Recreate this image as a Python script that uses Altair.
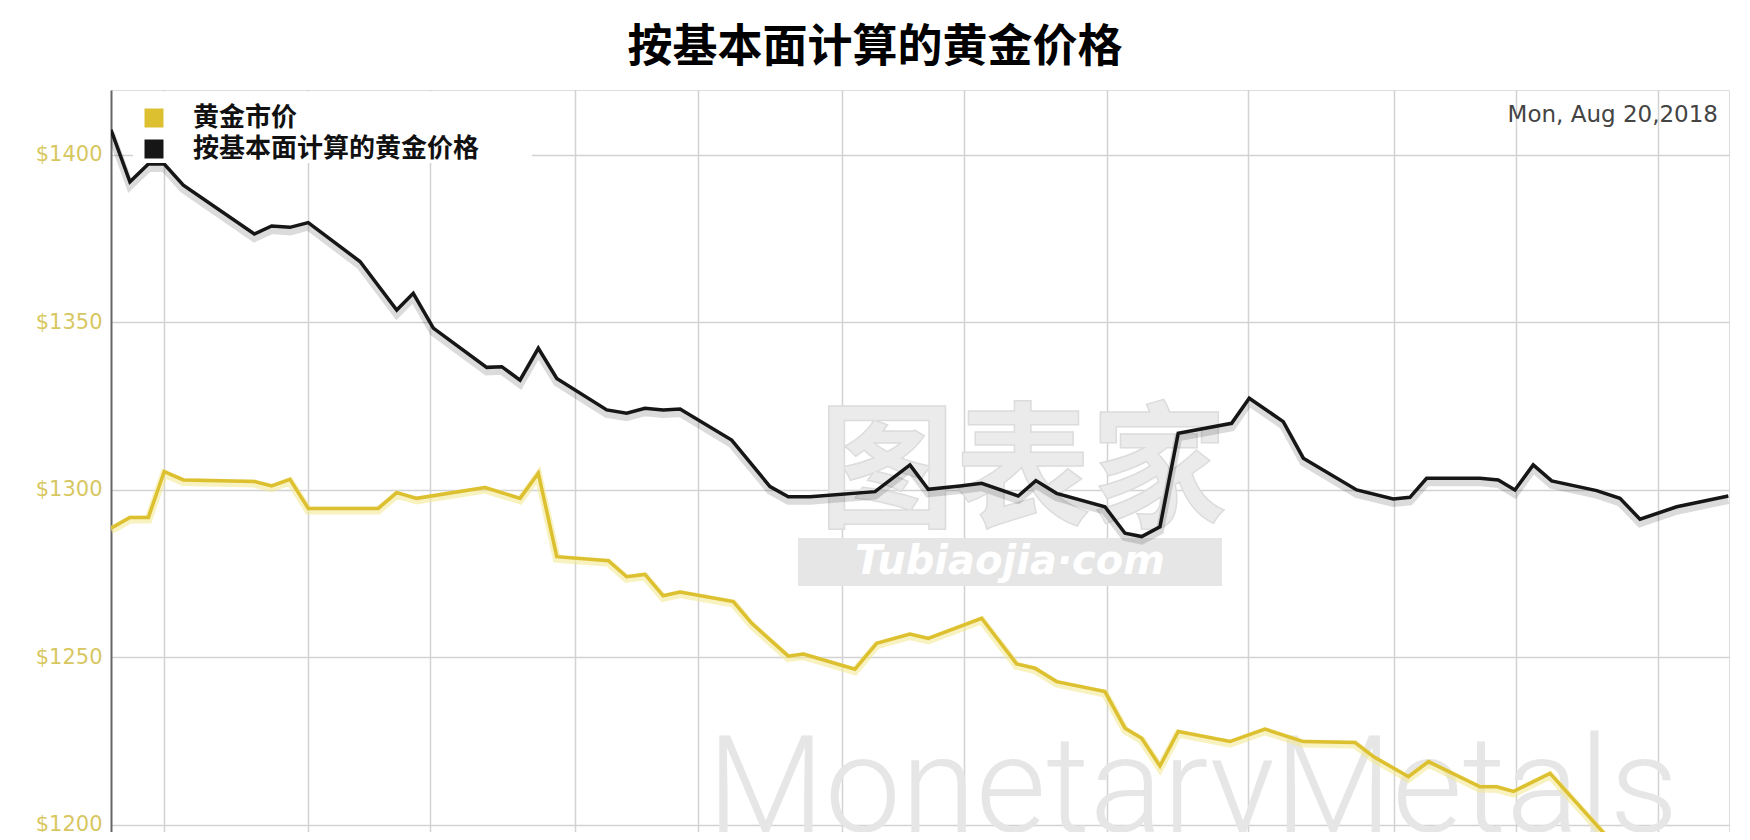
import altair as alt
import pandas as pd

# ---- data (x: time index 0..100 across the plot) ----
series_names = ["黄金市价", "按基本面计算的黄金价格"]

t_fund = [0.0, 1.17, 2.31, 3.29, 4.47, 8.86, 9.93, 11.06, 12.19, 15.39, 17.66, 18.68,
          19.92, 23.22, 24.15, 25.28, 26.41, 27.55, 30.64, 31.87, 33.0, 34.13, 35.17,
          38.36, 40.73, 41.86, 43.2, 47.22, 49.38, 50.51, 52.47, 53.81, 56.07, 57.16,
          58.44, 61.43, 62.67, 63.70, 64.83, 65.96, 69.26, 70.35, 72.45, 73.69, 76.99,
          79.25, 80.28, 81.31, 84.61, 85.74, 86.77, 87.90, 89.04, 91.82, 93.26, 94.5,
          96.77, 99.96]
v_fund = [1407.5, 1392.0, 1397.3, 1397.3, 1391.0, 1376.4, 1378.8, 1378.4, 1379.8,
          1368.2, 1353.7, 1358.7, 1348.3, 1336.6, 1336.8, 1332.8, 1342.3, 1333.3,
          1323.9, 1322.9, 1324.4, 1323.9, 1324.2, 1314.9, 1301.0, 1298.0, 1298.0,
          1299.5, 1307.5, 1300.2, 1301.2, 1302.0, 1298.2, 1302.8, 1299.0, 1295.0,
          1287.1, 1286.1, 1289.0, 1316.9, 1319.9, 1327.4, 1320.4, 1309.5, 1300.0,
          1297.3, 1297.8, 1303.5, 1303.5, 1303.0, 1300.0, 1307.5, 1302.7, 1299.8,
          1297.5, 1291.3, 1295.0, 1298.2]

t_spot = [0.0, 1.17, 2.31, 3.29, 4.47, 8.86, 9.93, 11.06, 12.19, 16.52, 17.66, 18.89,
          23.12, 25.28, 26.41, 27.55, 30.74, 31.87, 33.0, 34.13, 35.17, 38.46, 39.6,
          41.86, 42.79, 45.98, 47.32, 49.38, 50.51, 53.81, 55.97, 57.1, 58.44, 61.43,
          62.67, 63.7, 64.83, 65.96, 69.16, 71.32, 73.69, 76.89, 78.02, 80.19, 81.43,
          84.61, 85.64, 86.67, 88.94, 92.46, 93.26]
v_spot = [1288.6, 1291.8, 1291.8, 1305.5, 1303.0, 1302.5, 1301.2, 1303.2, 1294.5,
          1294.5, 1299.2, 1297.5, 1300.7, 1297.5, 1305.0, 1280.1, 1278.9, 1274.1,
          1274.8, 1268.4, 1269.5, 1266.7, 1260.2, 1250.4, 1251.0, 1246.5, 1254.2,
          1257.0, 1255.7, 1261.7, 1248.1, 1246.8, 1242.8, 1239.8, 1228.9, 1225.9,
          1217.6, 1227.9, 1224.9, 1228.6, 1224.9, 1224.6, 1220.4, 1214.4, 1218.9,
          1211.4, 1211.4, 1210.0, 1215.4, 1196.5, 1197.0]

x_grid = [3.28, 12.18, 19.72, 28.68, 36.28, 45.18, 52.72, 61.56, 70.27, 79.30, 86.84, 95.61]
y_ticks = [1200, 1250, 1300, 1350, 1400]
date_label = "Mon, Aug 20,2018"
title_text = "按基本面计算的黄金价格"

GOLD = "#dcc030"
BLACK = "#161616"
colors = [GOLD, BLACK]

df = pd.concat([
    pd.DataFrame({"t": t_spot, "v": v_spot, "s": series_names[0], "o": 0}),
    pd.DataFrame({"t": t_fund, "v": v_fund, "s": series_names[1], "o": 1}),
])
df_fund = df[df.s == series_names[1]]
df_spot = df[df.s == series_names[0]]

x_enc = alt.X("t:Q", scale=alt.Scale(domain=[0, 100], nice=False, zero=False),
              axis=alt.Axis(values=x_grid, labels=False, ticks=False, domain=False,
                            title=None, grid=True, gridColor="#d2d2d2", gridWidth=1.5))
y_enc = alt.Y("v:Q", scale=alt.Scale(domain=[1197.9, 1419.4], nice=False, zero=False),
              axis=alt.Axis(values=y_ticks, labelExpr="'$' + datum.value",
                            labelColor="#d8c761", labelFont="DejaVu Sans", labelFontSize=21,
                            labelPadding=9, ticks=False, domain=True, domainColor="#666666",
                            domainWidth=2, title=None, grid=True, gridColor="#d2d2d2",
                            gridWidth=1.5))


def one_text(txt, **kw):
    return alt.Chart(pd.DataFrame({"txt": [txt]})).mark_text(**kw).encode(text="txt:N")


wm1 = one_text("图表家", font="Noto Sans CJK SC", fontWeight="bold", fontSize=136,
               color="#ebebeb", stroke="#dcdcdc", strokeWidth=1.5,
               align="center", baseline="middle").encode(x=alt.value(912), y=alt.value(386))
wm_box = alt.Chart(pd.DataFrame({"k": [0]})).mark_rect(color="#e6e6e6").encode(
    x=alt.value(687), x2=alt.value(1111), y=alt.value(448), y2=alt.value(496))
wm2 = one_text("Tubiaojia·com", font="DejaVu Sans", fontWeight="bold", fontStyle="italic",
               fontSize=40, color="#ffffff", align="center", baseline="middle").encode(
    x=alt.value(899), y=alt.value(472))
wm3 = one_text("MonetaryMetals", font="Roboto", fontWeight=300, fontSize=136,
               color="#e6e6e6", align="left", baseline="alphabetic").encode(
    x=alt.value(596), y=alt.value(742))

shadow_fund = alt.Chart(df_fund).mark_line(
    color="#000000", opacity=0.14, strokeWidth=8, yOffset=4, clip=True
).encode(x=x_enc, y=y_enc)
glow_spot = alt.Chart(df_spot).mark_line(
    color="#f3e58c", opacity=0.55, strokeWidth=8, yOffset=2, clip=True
).encode(x=x_enc, y=y_enc)

lines = alt.Chart(df).mark_line(strokeWidth=3.5, clip=True).encode(
    x=x_enc, y=y_enc,
    color=alt.Color("s:N", scale=alt.Scale(domain=series_names, range=colors), legend=None),
    order="o:Q",
)

# ---- legend drawn in the upper-left corner of the plot ----
leg_bg = alt.Chart(pd.DataFrame({"k": [0]})).mark_rect(color="white").encode(
    x=alt.value(22), x2=alt.value(421), y=alt.value(1.5), y2=alt.value(73))
leg_layers = [leg_bg]
for i, (name, col) in enumerate(zip(series_names, colors)):
    yy = 28 + 31 * i
    leg_layers.append(
        alt.Chart(pd.DataFrame({"s": [name]})).mark_square(size=361, color=col, opacity=1)
        .encode(x=alt.value(43), y=alt.value(yy)))
    leg_layers.append(
        one_text(name, font="Noto Sans CJK SC", fontWeight="bold", fontSize=26,
                 color="#111111", align="left", baseline="middle")
        .encode(x=alt.value(82), y=alt.value(yy)))

date_txt = one_text(date_label, font="DejaVu Sans", fontSize=23, color="#444444",
                    align="right", baseline="middle").encode(x=alt.value(1607), y=alt.value(25))

title_mark = one_text(title_text, font="Noto Sans CJK SC", fontSize=45, fontWeight="bold",
                      color="#000000", align="center", baseline="alphabetic").encode(
    x=alt.value(764), y=alt.value(-28))

chart = alt.layer(wm1, wm_box, wm2, wm3, shadow_fund, glow_spot, lines, *leg_layers,
                  date_txt, title_mark).properties(
    width=1618, height=742,
    padding={"left": 103, "top": 82, "right": 13, "bottom": 0},
    autosize=alt.AutoSizeParams(type="none"),
).configure_view(stroke="#9a9a9a", strokeWidth=2).configure(background="white")

chart.save("out.html", embed_options={"renderer": "svg", "actions": False})
